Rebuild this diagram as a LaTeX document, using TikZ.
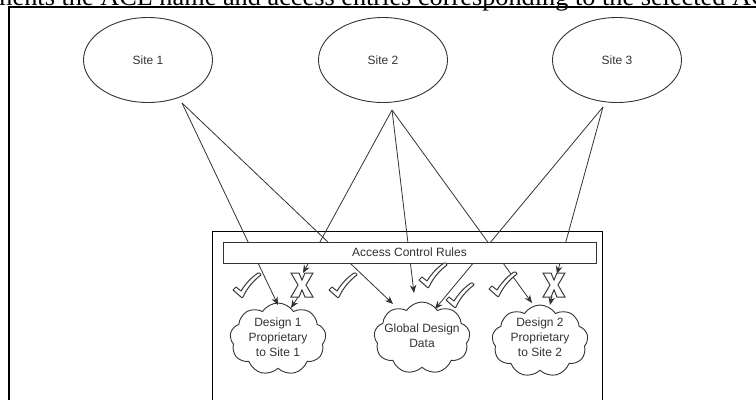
\documentclass[tikz,border=0pt]{standalone}
\usepackage{fontspec}
\setmainfont{Liberation Sans}
\newfontfamily\docserif{Liberation Serif}
\usetikzlibrary{shapes.geometric,shapes.symbols,arrows.meta}

\definecolor{ink}{HTML}{333333}
\definecolor{mark}{HTML}{3A3A3A}

\tikzset{
  site/.style={ellipse,draw=ink,line width=0.9pt,minimum width=129pt,minimum height=85pt,
    inner sep=0pt,text=ink,font=\fontsize{12}{15}\selectfont},
  store/.style={cloud,draw=ink,line width=0.9pt,fill=white,cloud puffs=9,cloud puff arc=115,
    aspect=1.3,inner sep=0pt,minimum width=96pt,minimum height=72pt},
  storetext/.style={text=ink,font=\fontsize{12}{15}\selectfont,align=center,inner sep=0pt},
  rulebar/.style={draw=ink,line width=0.9pt,fill=white,minimum width=373pt,minimum height=21pt,
    inner sep=0pt,text=ink,font=\fontsize{12}{15}\selectfont},
  link/.style={draw=ink,line width=0.8pt},
  flow/.style={link,-{Stealth[length=8pt,width=6.5pt]}},
  frame/.style={draw=black,line width=1.3pt},
  chk/.pic={
    \draw[draw=mark,fill=white,line width=1pt,line join=round]
      (-14,5) .. controls (-13,3) .. (-11,2) -- (-6,6) .. controls (-1,-2) and (5,-8) .. (11,-12)
      .. controls (13,-12) .. (14,-10) .. controls (7,-5) and (0,3) .. (-4,12)
      .. controls (-5,13) .. (-6,12) -- cycle;
  },
  cross/.pic={
    \draw[draw=mark,fill=white,line width=1pt,line join=miter]
      (-11,-12) -- (-3,-12) -- (0,-5) -- (3,-12) -- (11,-12) -- (4,0)
      -- (11,12) -- (3,12) -- (0,5) -- (-3,12) -- (-11,12) -- (-4,0) -- cycle;
  }
}

\begin{document}
\begin{tikzpicture}[x=1pt,y=-1pt]
\useasboundingbox (0,0) rectangle (756,400);

% last line of the text page above, cut by the top edge
\begin{scope}
  \clip (0,0) rectangle (756,400);
  \node[anchor=base west,inner sep=0pt,font=\docserif\fontsize{26.3}{28}\selectfont]
    (caption) at (-8,5) {ments the ACL name and access entries corresponding to the selected ACL};
\end{scope}

% outer and inner frames
\draw[frame] (9,400) -- (9,7) -- (756,7);
\draw[draw=black,line width=1pt] (212,400) -- (212,231) -- (602,231) -- (602,400);

% sites
\node[site] (s1) at (148,60) {Site 1};
\node[site] (s2) at (383,60) {Site 2};
\node[site] (s3) at (617,60) {Site 3};

% data stores
\node[store] (d1) at (278,339) {};
\node[store] (g)  at (422,338) {};
\node[store] (d2) at (540,341) {};
\node[storetext] (d1t) at (278,337) {Design 1\\Proprietary\\to Site 1};
\node[storetext] (gt)  at (422,336) {Global Design\\Data};
\node[storetext] (d2t) at (540,337) {Design 2\\Proprietary\\to Site 2};

% connector end points
\coordinate (p1) at (182,103);
\coordinate (p2) at (392,110);
\coordinate (p3) at (603,107);
\coordinate (t1) at (278,305);
\coordinate (t2) at (393,304);
\coordinate (t3) at (414,293);
\coordinate (t4) at (532,303);
\coordinate (t5) at (435,309);
\coordinate (t6) at (291,308);
\coordinate (t7) at (550,305);
\coordinate (x1top) at (303,273);
\coordinate (x1bot) at (298,297);
\coordinate (x2top) at (557,274);
\coordinate (x2bot) at (552,296);

\draw[flow] (p1) -- (t1);
\draw[flow] (p1) -- (t2);
\draw[flow] (p2) -- (x1top);
\draw[flow] (x1bot) -- (t6);
\draw[flow] (p2) -- (t3);
\draw[flow] (p2) -- (t4);
\draw[flow] (p3) -- (t5);
\draw[flow] (p3) -- (x2top);
\draw[flow] (x2bot) -- (t7);

% rule bar laid over the connectors
\node[rulebar] (acr) at (409.5,252.5) {Access Control Rules};

% allow / deny marks
\pic at (247,285) {chk};
\pic at (343,285) {chk};
\pic at (433,275) {chk};
\pic at (460,295) {chk};
\pic at (503,284) {chk};
\pic at (302,285) {cross};
\pic at (554,285) {cross};
\end{tikzpicture}
\end{document}
